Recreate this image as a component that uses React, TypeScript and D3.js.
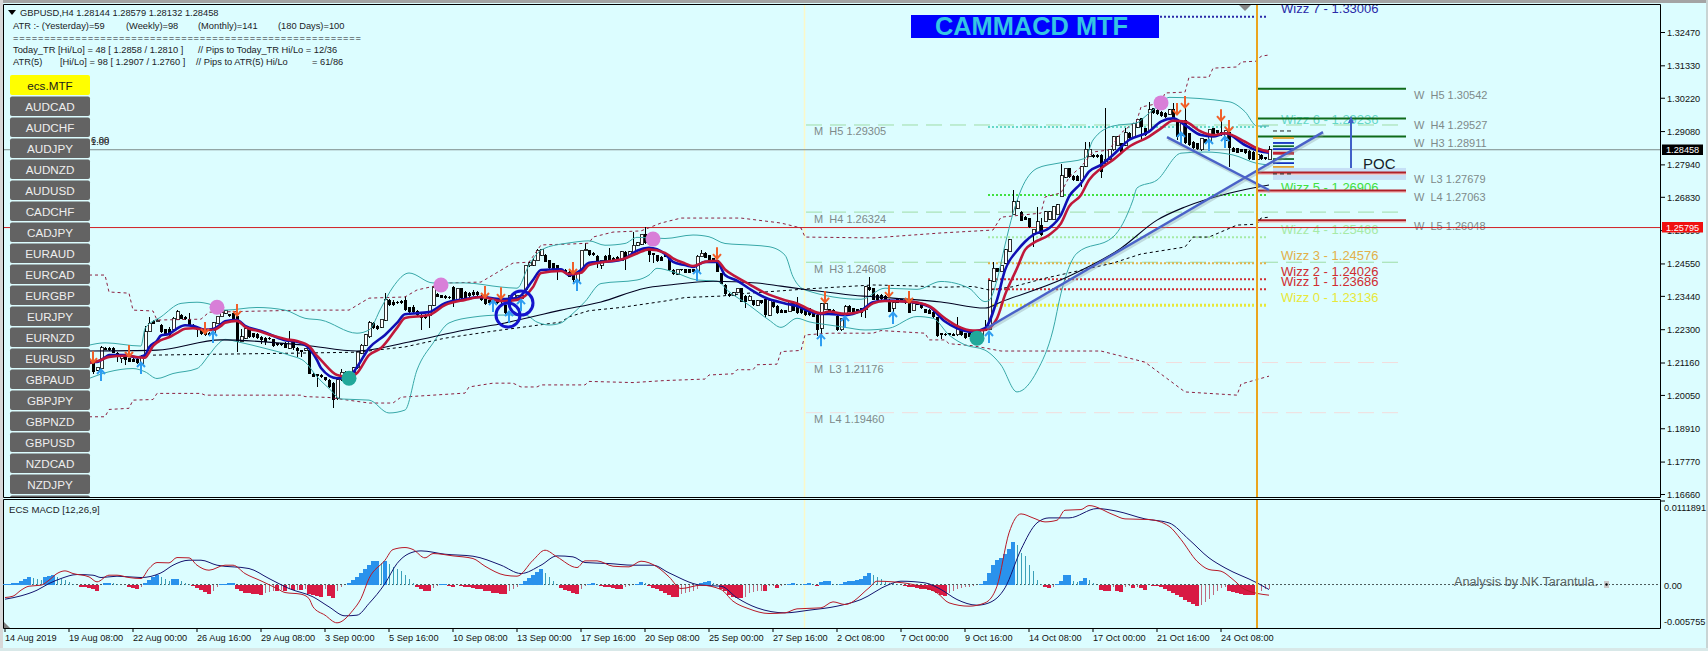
import React from "react";
import * as d3 from "d3";

// ---------- price data, in pips above 1.2000 ----------
const firstCandleBar = 22;
const candleOpen = [
  120,92,97,169,169,169,151,131,137,132, 130,130,115,137,223,261,257,246,231,234,
  229,265,280,274,265,246,237,234,223,219, 219,251,274,286,283,286,276,189,200,231,
  217,215,206,203,203,197,183,183,185,166, 189,169,160,160,162,80,77,75,67,58,
  47,-7,58,85,71,82,99,150,177,205, 253,242,239,263,332,325,325,328,332,307,
  307,294,280,280,280,314,352,348,345,343, 377,331,371,360,356,360,360,345,336,331,
  331,334,334,314,326,331,337,337,366,448, 451,466,485,485,468,457,451,434,434,428,
  423,400,434,500,502,493,482,451,482,485, 477,480,468,497,480,489,519,523,556,508,
  491,485,480,485,482,434,420,436,436,436, 436,428,480,493,485,474,468,423,383,352,
  348,356,371,345,331,331,314,331,334,280, 326,311,299,297,291,326,318,303,297,303,
  295,281,235,298,300,298,277,229,280,311, 303,300,303,298,377,372,349,349,345,332,
  303,334,334,329,326,295,320,315,300,298, 292,273,218,216,218,216,212,238,218,220,
  216,218,206,231,231,395,440,429,457,497, 623,645,634,617,611,558,560,588,600,608,
  606,623,685,752,782,756,756,742,790,822, 828,828,828,799,813,845,859,868,862,904,
  888,922,953,919,911,987,982,976,973,968, 984,948,893,948,902,873,868,845,881,873,
  919,913,908,879,908,853,851,847,847,843, 839,813,828,820,814,
];
const candleClose = [
  86,101,169,162,160,151,137,140,126,120, 121,115,137,223,251,251,262,223,212,212,
  269,291,268,265,246,234,229,215,212,212, 254,276,288,295,276,268,189,206,234,204,
  204,200,194,189,197,174,177,176,169,189, 166,158,154,166,80,69,72,67,58,35,
  -11,58,85,64,85,99,154,177,212,253, 236,232,266,332,314,314,321,321,297,290,
  290,280,270,270,314,376,343,340,337,337, 320,371,337,340,345,348,348,331,318,320,
  320,320,326,286,348,352,348,348,451,459, 468,502,505,462,440,434,428,428,425,411,
  400,423,502,505,485,485,459,468,466,462, 462,466,497,477,497,519,527,556,525,485,
  485,466,466,480,434,420,436,434,425,425, 428,482,491,477,468,468,428,388,352,345,
  356,371,326,326,345,314,329,320,280,331, 306,286,288,288,326,295,286,286,280,280,
  275,229,318,318,293,292,229,269,309,292, 286,288,286,377,366,332,332,334,332,292,
  323,323,326,320,288,320,315,303,288,284, 273,209,212,212,212,210,241,212,201,206,
  204,206,227,227,398,440,429,451,503,537, 668,668,603,606,580,574,600,554,634,634,
  651,657,756,782,752,742,740,788,847,847, 820,820,771,813,845,891,891,839,904,885,
  934,948,925,896,982,970,968,961,957,982, 953,891,936,868,862,851,847,885,868,916,
  896,902,896,913,851,839,836,839,834,813, 811,831,813,813,845,
];
const candleHigh = [
  122,103,174,172,172,171,154,143,143,134, 132,132,143,243,272,264,266,251,234,240,
  272,297,284,277,286,248,240,237,226,222, 257,278,292,297,285,288,286,234,236,234,
  219,217,208,206,205,199,186,185,187,226, 191,171,162,168,166,82,79,77,69,60,
  50,60,95,88,90,101,156,180,215,260, 256,245,268,356,335,330,328,330,346,309,
  316,296,282,283,316,378,355,350,347,345, 380,373,373,362,358,365,363,347,338,333,
  333,336,336,340,350,354,350,350,453,462, 477,505,507,490,470,459,453,436,436,430,
  425,425,504,525,504,495,484,470,484,511, 479,482,499,499,499,565,529,558,582,510,
  493,487,482,491,484,436,438,438,438,438, 438,484,502,495,487,476,470,425,385,354,
  358,373,373,347,347,333,331,333,336,333, 328,313,301,299,328,328,343,305,299,305,
  297,283,320,349,302,300,279,271,315,313, 305,302,305,379,412,374,351,351,347,334,
  325,336,336,331,328,322,322,317,302,300, 294,275,220,218,220,218,275,240,220,222,
  218,220,229,263,400,463,442,453,505,540, 708,674,636,619,613,576,649,611,636,636,
  653,659,797,784,784,758,758,790,873,873, 830,830,830,987,847,893,893,870,919,906,
  936,950,955,921,1010,989,984,978,975,984, 1005,950,938,1016,904,875,870,887,883,918,
  921,915,953,915,910,855,853,849,849,845, 841,833,830,822,858,
];
const candleLow = [
  80,90,92,160,158,149,120,115,109,118, 119,112,110,135,222,250,255,217,208,208,
  225,263,266,263,244,232,206,212,210,208, 206,250,272,284,274,266,155,187,198,202,
  202,198,181,177,195,172,175,174,167,164, 160,137,137,158,78,67,35,65,56,32,
  -38,-10,55,62,68,80,97,148,175,203, 234,230,237,260,312,312,318,319,295,288,
  288,278,229,268,236,312,341,338,335,335, 306,329,335,338,343,346,346,329,316,318,
  318,318,315,283,324,329,335,335,364,446, 449,464,483,460,438,432,400,426,423,409,
  394,398,432,498,483,483,440,436,464,460, 460,464,466,434,478,487,517,521,523,462,
  457,462,464,478,432,418,418,432,423,423, 426,426,478,475,466,466,426,386,350,343,
  346,354,324,303,329,312,312,318,271,278, 304,284,286,286,289,293,284,284,278,278,
  273,209,209,296,291,290,227,227,278,290, 284,286,275,269,364,330,330,332,330,290,
  280,321,324,318,286,293,313,301,286,282, 271,205,197,210,210,208,210,210,199,204,
  202,204,204,225,229,393,427,427,455,495, 621,643,601,604,578,514,558,552,598,606,
  604,621,683,750,750,740,738,720,788,820, 818,818,748,797,811,843,857,837,860,883,
  886,920,881,894,909,968,966,959,955,966, 951,879,891,866,860,849,845,843,866,871,
  894,900,894,877,788,837,834,837,832,811, 809,811,811,811,813,
];

const redMaBars = [21,24,26,30,35,36,37,39,41,43,45,47,50,52,54,55,58,60,64,67,70,73,76,78,79,83,86,88,91,94,98,100,106,110,115,119,124,128,132,134,139,141,144,146,149,152,155,158,161,165,167,170,172,175,178,180,183,186,190,195,198,201,204,206,210,214,217,220,226,231,235,238,242,245,248,250,253,255,257,261,264,266,269,271,274,277,281,286,289,292,295,299,302,305,310,313,316];
const redMaValues = [115,126,137,141,134,151,174,194,204,219,233,235,229,229,243,254,260,240,223,209,198,191,174,140,126,75,68,82,143,167,236,270,280,314,332,342,328,332,376,424,431,420,425,451,460,466,474,491,505,493,474,457,448,462,466,436,409,386,356,331,320,300,286,292,284,292,320,328,326,311,269,243,227,229,269,349,440,503,526,554,594,651,691,742,782,811,856,891,919,945,942,908,896,902,873,851,839];
const blueMaBars = [21,23,25,26,30,33,35,36,38,39,41,43,45,47,50,52,54,55,58,60,64,67,70,73,76,78,79,83,86,88,91,95,98,100,106,110,115,119,124,128,132,134,139,141,144,146,149,152,155,158,161,165,167,170,172,175,178,180,183,186,190,195,198,201,204,206,210,214,217,220,226,231,235,238,242,245,248,250,253,255,257,261,264,266,269,271,274,277,281,286,289,292,295,299,302,305,310,313,316];
const blueMaValues = [120,120,135,143,143,135,143,169,192,210,215,234,245,243,230,232,249,259,263,243,226,209,194,189,167,126,99,64,68,102,167,212,253,283,290,321,335,342,335,338,400,434,437,417,434,459,462,464,474,500,510,489,462,451,445,462,462,417,398,371,340,320,311,293,284,284,280,295,324,330,326,309,258,235,223,235,332,434,500,531,554,577,623,685,731,771,794,828,879,908,942,953,930,896,891,902,862,843,836];
const longMaBars = [21,38,54,75,88,101,115,125,139,149,160,166,177,188,194,201,212,222,234,245,249,265,279,288,295,306,316];
const longMaValues = [157,160,195,177,157,188,229,253,297,325,372,383,396,390,379,366,348,338,325,304,325,407,509,605,650,697,725];
const bbUpperBars = [21,25,34,35,39,44,48,51,55,63,70,75,79,88,91,94,97,101,107,115,124,128,131,134,139,141,146,150,155,158,165,172,176,180,187,191,195,197,200,214,220,228,234,241,245,246,248,250,252,254,258,263,270,272,277,283,285,289,291,306,310,313,316];
const bbUpperValues = [177,185,174,234,274,320,324,318,297,306,297,269,263,218,229,304,376,424,390,390,376,372,451,502,523,527,534,519,525,546,542,554,548,525,519,514,485,411,366,334,372,368,395,372,326,330,400,520,628,708,782,799,816,879,927,938,959,1005,1025,1010,976,927,927];
const bbLowerBars = [21,26,32,35,38,42,48,51,53,55,58,65,71,75,78,81,84,91,96,100,103,107,111,117,124,130,133,136,139,141,145,149,158,161,163,167,173,178,181,186,191,194,198,201,206,210,215,221,228,232,236,240,245,249,253,258,262,264,268,277,282,283,288,294,300,307,313,316];
const bbLowerValues = [63,86,97,86,63,80,97,143,177,197,189,166,143,120,69,29,-7,-11,-55,-45,92,184,253,273,280,280,256,246,253,274,326,388,400,417,440,428,400,396,360,314,263,238,269,257,246,238,229,235,275,269,212,178,160,109,17,88,229,355,492,547,674,715,742,834,838,828,799,794];
const upperChannelBars = [21,25,26,31,32,37,38,49,51,75,86,91,100,103,111,119,127,131,134,141,146,147,152,159,164,169,184,194,199,200,217,234,247,249,259,260,264,266,269,272,276,279,283,284,289,290,295,296,301,302,308,309,313,314,316];
const upperChannelValues = [417,417,359,355,297,294,263,266,290,297,297,338,342,366,390,393,458,461,520,523,526,547,564,568,595,612,612,595,578,547,544,561,571,615,629,684,698,752,787,838,845,903,947,992,1006,1040,1043,1094,1094,1125,1129,1146,1149,1166,1170];
const lowerChannelBars = [21,25,26,31,32,37,38,49,50,74,75,81,91,97,99,115,116,122,127,129,133,134,145,146,157,165,175,176,182,183,187,188,193,194,199,200,206,217,219,230,231,235,236,242,249,274,285,295,308,309,316];
const lowerChannelValues = [-68,-68,-43,-39,-11,-9,12,12,6,6,1,-2,-21,-21,-1,13,34,47,47,34,34,41,41,53,49,56,61,75,79,93,93,110,112,155,159,212,218,218,227,218,195,195,182,175,157,157,119,17,6,44,71];
const midChannelBars = [37,74,88,100,110,122,139,141,146,154,165,170,179,185,201,217,227,234,242,246,252,260,277,284,295,297,301,308,313,314,316];
const midChannelValues = [143,150,153,171,201,225,256,274,295,306,328,340,345,354,370,383,380,375,378,366,377,406,458,489,513,547,547,588,591,612,615];

// ---------- axis ----------
const priceTicks = ["1.32470","1.31330","1.30220","1.29080","1.27940","1.26830","1.25690","1.24550","1.23440","1.22300","1.21160","1.20050","1.18910","1.17770","1.16660"];
const timeLabels = ["14 Aug 2019","19 Aug 08:00","22 Aug 00:00","26 Aug 16:00","29 Aug 08:00","3 Sep 00:00","5 Sep 16:00","10 Sep 08:00","13 Sep 00:00","17 Sep 16:00","20 Sep 08:00","25 Sep 00:00","27 Sep 16:00","2 Oct 08:00","7 Oct 00:00","9 Oct 16:00","14 Oct 08:00","17 Oct 00:00","21 Oct 16:00","24 Oct 08:00"];
const barsPerTimeLabel = 16;
const lastBar = 316;

// ---------- levels ----------
const monthlyNames = ["M  H5","M  H4","M  H3","M  L3","M  L4"];
const monthlyValues = [1.29305,1.26324,1.24608,1.21176,1.1946];
const weeklyNames = ["W  H5","W  H4","W  H3","W  L3","W  L4","W  L5"];
const weeklyValues = [1.30542,1.29527,1.28911,1.27679,1.27063,1.26048];
const wizzNames = ["Wizz 7","Wizz 6","Wizz 5","Wizz 4","Wizz 3","Wizz 2","Wizz 1","Wizz 0"];
const wizzValues = [1.33006,1.29236,1.26906,1.25466,1.24576,1.24026,1.23686,1.23136];
const wizzColors = ["#2a2aa8","#66d8c8","#40e040","#a6eaa6","#e2b04a","#d02c30","#d02c30","#e8e838"];
const bidPrice = 1.28458;
const markedPrice = 1.25795;

// ---------- markers ----------
const pinkDotBars = [53,109,162,289];
const pinkDotValues = [307,383,540,1006];
const tealDotBars = [86,243];
const tealDotValues = [64,201];
const ringBars = [125.75,129];
const ringValues = [280,321];
const downArrowBars = [22,31,50,58,120,124,142,178,205,221,226,293,295,304,306];
const downArrowValues = [136,157,236,297,359,355,441,492,342,362,342,985,1009,964,927];
const upArrowBars = [24,34,52,122,126,129,143,173,204,210,222,246,294,301,305];
const upArrowValues = [75,99,205,311,273,314,383,417,194,256,270,205,886,862,872];
const trendStartBars = [245.5,290.5];
const trendStartValues = [236,889];
const trendEndBars = [329.5,316];
const trendEndValues = [906,708];
const stackLevels = [886,869,858,848,834,814,800,787];
const stackColors = ["#e0a030","#1030c0","#176e30","#1030c0","#c02030","#176e30","#1030c0","#e0a030"];
const stackDashed = [910,763];
const pocRange = [1.27835,1.27425];

// ---------- MACD, in units of 0.0000441 ----------
const macdUnit = 0.0000441;
const macdHistogram = [
  1,2,5,5,12,18,22,20,18,14, 22,26,30,22,18,15,8,3,0,-6,
  -7,-10,-12,-18,-2,4,6,5,1,0, -1,-6,-9,-13,-6,5,15,22,28,22,
  16,10,16,18,12,6,2,-4,-10,-16, -22,-27,-18,-8,1,3,4,5,-14,-20,
  -24,-25,-27,-29,-31,-25,-22,-18,-20,-16, -18,-14,-17,-15,-17,-12,-28,-32,-35,-37,
  -12,-34,-40,-18,-8,-2,6,14,24,34, 46,58,70,72,66,72,62,52,48,42,
  30,16,6,-8,-14,-18,-20,-10,-3,1, 1,-3,-6,-2,-5,-7,-8,-10,-12,-14,
  -18,-20,-24,-26,-28,-28,-18,-14,-8,2, 10,20,28,38,46,34,24,12,2,-10,
  -15,-20,-26,-28,-14,-3,3,5,2,-4, -6,-8,-10,-12,-14,-6,-4,-2,3,7,
  4,-4,-10,-14,-18,-24,-30,-36,-36,-28, -26,-22,-20,-14,4,8,10,6,0,-12,
  -20,-30,-38,-40,-40,-38,-25,-22,-20,-18, -20,-5,-4,-10,-4,-2,3,4,3,1,
  2,4,2,-4,8,10,10,2,1,3, 8,10,12,14,18,26,36,28,24,18,
  10,6,4,2,-2,-4,-6,-8,-10,-12, -14,-16,-18,-24,-32,-34,-26,-18,-14,-10,
  -8,-6,-4,-2,3,10,35,60,74,80, 92,106,128,120,95,85,60,40,15,2,
  -8,-10,-8,3,12,28,28,10,8,10, 20,14,4,-2,-16,-20,-20,-8,-18,-22,
  -8,-3,-10,-8,-10,-16,-2,-3,-5,-8, -12,-18,-24,-30,-38,-46,-52,-58,-64,-60,
  -52,-42,-32,-20,-10,-6,-18,-22,-26,-28, -30,-30,-32,-22,-18,-14,-12,
];
const macdRedBars = [0,2,4,6,9,11,13,15,17,21,23,26,28,31,34,36,38,41,43,46,48,51,55,57,60,64,68,70,74,76,77,80,83,87,89,91,95,97,100,102,105,107,112,117,120,125,128,132,135,138,143,145,148,152,156,159,163,166,169,174,179,182,186,191,195,198,204,207,210,216,218,222,227,233,236,241,245,248,251,254,257,260,263,265,269,271,277,280,286,291,294,298,301,304,307,310,316];
const macdRedValues = [-39,-35,-17,-5,-2,13,33,41,33,23,8,28,28,21,18,48,66,65,81,80,58,43,58,58,33,11,-12,-24,-29,-42,-67,-92,-115,-77,-42,18,73,105,111,105,80,93,86,78,55,28,25,73,103,83,51,71,71,55,53,70,53,23,-12,-2,-15,-50,-73,-87,-85,-73,-70,-52,-60,-10,10,8,0,-25,-55,-65,-55,-5,155,212,200,188,193,223,225,237,210,197,195,175,135,70,45,40,15,-15,-32];
const macdNavyBars = [0,4,8,11,14,18,22,24,28,34,39,42,46,49,53,61,66,71,77,81,85,88,91,95,98,101,104,110,117,124,129,134,138,142,145,151,157,162,166,174,179,183,188,195,201,208,214,221,224,230,234,238,243,246,250,254,258,261,266,273,278,285,291,296,301,305,313,316];
const macdNavyValues = [-44,-34,-17,3,18,30,28,21,25,21,35,58,73,73,58,48,18,-12,-37,-67,-94,-92,-57,3,63,93,101,91,85,58,33,58,86,83,66,63,58,58,35,-2,-5,-40,-70,-85,-77,-65,-45,0,10,5,-15,-45,-62,-55,-10,105,185,200,200,228,220,197,185,135,80,50,5,-15];
const macdTop = 0.0111891;
const macdBottom = -0.005755;

// ---------- panel ----------
const symbols = ["AUDCAD","AUDCHF","AUDJPY","AUDNZD","AUDUSD","CADCHF","CADJPY","EURAUD","EURCAD","EURGBP","EURJPY","EURNZD","EURUSD","GBPAUD","GBPJPY","GBPNZD","GBPUSD","NZDCAD","NZDJPY"];

const BG = "#dcfdff";
const SANS = "'Liberation Sans', Arial, sans-serif";

const x = d3.scaleLinear().domain([0, lastBar]).range([5, 1269]);
const yPip = d3.scaleLinear().domain([1247, -334]).range([32.5, 494.5]);
const yPrice = (p: number) => yPip((p - 1.2) * 10000);
const yMacd = d3.scaleLinear().domain([macdTop, macdBottom]).range([500, 628]);
const yHist = (v: number) => yMacd(v * macdUnit);

type Mk = { bars: number[]; values: number[]; stroke: string; w: number; dash?: string; smooth?: boolean };
const pathOf = (bars: number[], values: number[], smooth: boolean, yf: (v: number) => number) =>
  d3.line<number>().x((b) => x(b)).y((_, i) => yf(values[i])).curve(smooth ? d3.curveMonotoneX : d3.curveLinear)(bars) as string;

const priceLines: Mk[] = [
  { bars: upperChannelBars, values: upperChannelValues, stroke: "#8c2040", w: 1, dash: "3 3" },
  { bars: lowerChannelBars, values: lowerChannelValues, stroke: "#8c2040", w: 1, dash: "3 3" },
  { bars: midChannelBars, values: midChannelValues, stroke: "#000008", w: 1, dash: "3 3" },
  { bars: bbUpperBars, values: bbUpperValues, stroke: "#38a8a8", w: 1, smooth: true },
  { bars: bbLowerBars, values: bbLowerValues, stroke: "#38a8a8", w: 1, smooth: true },
  { bars: longMaBars, values: longMaValues, stroke: "#000020", w: 1.1, smooth: true },
];

function Arrow({ bar, value, up }: { bar: number; value: number; up: boolean }) {
  const cx = x(bar);
  const cy = yPip(value);
  const dir = up ? -1 : 1;
  const col = up ? "#2f9df0" : "#f0602a";
  return (
    <g stroke={col} fill="none" strokeWidth={2}>
      <path d={`M${cx},${cy - dir * 6}L${cx},${cy + dir * 5}`} />
      <path d={`M${cx - 4},${cy + dir * 1}L${cx},${cy + dir * 5.5}L${cx + 4},${cy + dir * 1}`} />
    </g>
  );
}

export default function App() {
  return (
    <svg width={1708} height={651} style={{ position: "fixed", left: 0, top: 0, display: "block" }} fontFamily={SANS}>
      <defs>
        <clipPath id="mainClip"><rect x={4} y={5} width={1656} height={492} /></clipPath>
      </defs>
      <rect width={1708} height={651} fill={BG} />
      <rect width={1708} height={3} fill="#a4a4a4" />
      <rect y={0} width={3} height={651} fill="#d8d8d8" />
      <rect x={1706} width={2} height={651} fill="#c8d4d4" />
      <rect y={648} width={1708} height={3} fill="#d8e8e8" />

      {/* window frames */}
      <path d="M3.5,4.5H1660.5V497.5H3.5ZM3.5,499.5H1660.5V628.5H3.5Z" fill="none" stroke="#000" strokeWidth={1} />

      <g clipPath="url(#mainClip)">
        {/* separators */}
        <line x1={804.5} x2={804.5} y1={5} y2={497} stroke="#fbf8c8" strokeWidth={1.5} />

        {/* monthly levels */}
        {monthlyValues.map((v, i) => (
          <g key={i}>
            <line x1={806} x2={1398} y1={yPrice(v)} y2={yPrice(v)} stroke={monthlyNames[i].includes("H") ? "#9edca6" : "#f2dcdc"} strokeWidth={1} strokeDasharray="16 8" />
            <text x={814} y={yPrice(v) + 10.5} fontSize={11} fill="#7e8a8a" xmlSpace="preserve">{`${monthlyNames[i]} ${v.toFixed(5)}`}</text>
          </g>
        ))}

        {/* wizz levels */}
        {wizzValues.map((v, i) => (
          <g key={i}>
            <line x1={i === 0 ? 1160 : 988} x2={1266} y1={yPrice(v)} y2={yPrice(v)} stroke={wizzColors[i]} strokeWidth={i === 7 ? 3 : 2} strokeDasharray="2 2" />
            <text x={1281} y={yPrice(v) - 3.5} fontSize={13} fill={wizzColors[i]}>{`${wizzNames[i]} - ${v.toFixed(5)}`}</text>
          </g>
        ))}

        {/* POC */}
        <rect x={1273} y={yPrice(pocRange[0])} width={133} height={yPrice(pocRange[1]) - yPrice(pocRange[0])} fill="#c6dff6" />
        <text x={1363} y={168.5} fontSize={15} fill="#15202a">POC</text>

        {/* weekly levels */}
        {weeklyValues.map((v, i) => (
          <g key={i}>
            {i > 2 && <line x1={1257} x2={1406} y1={yPrice(v) + 1} y2={yPrice(v) + 1} stroke="#f0c8c8" strokeWidth={3} />}
            <line x1={1257} x2={1406} y1={yPrice(v)} y2={yPrice(v)} stroke={i < 3 ? "#0f6a1a" : "#b02028"} strokeWidth={2} />
            <text x={1414} y={yPrice(v) + 10} fontSize={11} fill="#7e8a8a" xmlSpace="preserve">{`${weeklyNames[i]} ${v.toFixed(5)}`}</text>
          </g>
        ))}

        {/* price lines */}
        <line x1={4} x2={1660} y1={yPrice(bidPrice)} y2={yPrice(bidPrice)} stroke="#7c8a8a" strokeWidth={1} />
        <line x1={4} x2={1660} y1={yPrice(markedPrice)} y2={yPrice(markedPrice)} stroke="#d02024" strokeWidth={1} />

        {/* candles */}
        {candleOpen.map((o, k) => {
          const c = candleClose[k];
          const bar = firstCandleBar + k;
          const cx = Math.round(x(bar)) + 0.5;
          const top = yPip(Math.max(o, c));
          const bot = yPip(Math.min(o, c));
          return (
            <g key={k} shapeRendering="crispEdges">
              <line x1={cx} x2={cx} y1={yPip(candleHigh[k])} y2={yPip(candleLow[k])} stroke="#000" strokeWidth={1} />
              <rect x={cx - 1.5} y={top} width={3} height={Math.max(bot - top, 1)} fill={c >= o ? "#fff" : "#000"} stroke="#000" strokeWidth={c >= o ? 0.8 : 0} />
            </g>
          );
        })}

        {/* indicator lines */}
        {priceLines.map((l, i) => (
          <path key={i} d={pathOf(l.bars, l.values, !!l.smooth, yPip)} fill="none" stroke={l.stroke} strokeWidth={l.w} strokeDasharray={l.dash} />
        ))}
        <path d={pathOf(blueMaBars, blueMaValues, true, yPip)} fill="none" stroke="#1010b4" strokeWidth={2.6} />
        <path d={pathOf(redMaBars, redMaValues, true, yPip)} fill="none" stroke="#c0183a" strokeWidth={2.6} />

        {/* POC stack */}
        {stackLevels.map((v, i) => (
          <line key={i} x1={1273} x2={1294} y1={yPip(v)} y2={yPip(v)} stroke={stackColors[i]} strokeWidth={i === 4 ? 3 : 1.8} />
        ))}
        {stackDashed.map((v, i) => (
          <line key={i} x1={1273} x2={1294} y1={yPip(v)} y2={yPip(v)} stroke="#222" strokeWidth={1} strokeDasharray="4 3" />
        ))}

        {/* markers */}
        {ringBars.map((b, i) => (
          <circle key={i} cx={x(b)} cy={yPip(ringValues[i])} r={12} fill="none" stroke="#1414cc" strokeWidth={3} />
        ))}
        {downArrowBars.map((b, i) => <Arrow key={i} bar={b} value={downArrowValues[i]} up={false} />)}
        {upArrowBars.map((b, i) => <Arrow key={i} bar={b} value={upArrowValues[i]} up={true} />)}
        {pinkDotBars.map((b, i) => <circle key={i} cx={x(b)} cy={yPip(pinkDotValues[i])} r={7.5} fill="#d87fd8" />)}
        {tealDotBars.map((b, i) => <circle key={i} cx={x(b)} cy={yPip(tealDotValues[i])} r={7.5} fill="#21a89a" />)}

        {/* trend lines */}
        {trendStartBars.map((b, i) => {
          const p = { x1: x(b), y1: yPip(trendStartValues[i]), x2: x(trendEndBars[i]), y2: yPip(trendEndValues[i]) };
          return (
            <g key={i}>
              <line {...p} y1={p.y1 + 2} y2={p.y2 + 2} x1={p.x1 + 1} x2={p.x2 + 1} stroke="#8a9aa0" strokeOpacity={0.35} strokeWidth={3} />
              <line {...p} stroke="#4a62c8" strokeWidth={2.4} />
            </g>
          );
        })}
        <line x1={1351} x2={1351} y1={168} y2={119} stroke="#4060c8" strokeWidth={2} />
        <path d="M1351,116l-3,7h6z" fill="#4060c8" />

        {/* orange time marker */}
        <line x1={1257} x2={1257} y1={5} y2={497} stroke="#eaa41e" strokeWidth={2} />

        {/* top small marker */}
        <path d="M1239,5h12l-6,6z" fill="#858585" />

        {/* title */}
        <rect x={911} y={15} width={248} height={23} fill="#0000ff" />
        <text x={1031.5} y={35} fontSize={25.4} fontWeight="bold" fill="#35c4e4" textAnchor="middle">CAMMACD MTF</text>

        {/* header */}
        <path d="M8,10h8l-4,5z" fill="#000" />
        <g fontSize={9.3} fill="#1a2226" xmlSpace="preserve">
          <text x={20} y={16}>GBPUSD,H4  1.28144 1.28579 1.28132 1.28458</text>
          <text x={13} y={29}>ATR :- (Yesterday)=59</text>
          <text x={126} y={29}>(Weekly)=98</text>
          <text x={198} y={29}>(Monthly)=141</text>
          <text x={278} y={29}>(180 Days)=100</text>
          <text x={13} y={41} textLength={348} lengthAdjust="spacing">========================================================</text>
          <text x={13} y={53}>Today_TR [Hi/Lo] = 48 [ 1.2858 / 1.2810 ]</text>
          <text x={198} y={53}>// Pips to Today_TR Hi/Lo  = 12/36</text>
          <text x={13} y={65}>ATR(5)</text>
          <text x={60} y={65}>[Hi/Lo] = 98 [ 1.2907 / 1.2760 ]</text>
          <text x={196} y={65}>// Pips to ATR(5) Hi/Lo</text>
          <text x={312} y={65}>= 61/86</text>
          <text x={91} y={143} fill="#222">6.00</text>
          <text x={91} y={145} fill="#222">1.00</text>
        </g>

        {/* symbol buttons */}
        <rect x={10} y={75} width={80} height={20} rx={2} fill="#ffff00" />
        <text x={50} y={89.5} fontSize={11.7} fill="#1a1a1a" textAnchor="middle">ecs.MTF</text>
        {symbols.map((s, i) => (
          <g key={s}>
            <rect x={10} y={96.5 + 21 * i} width={80} height={19.5} rx={2} fill="#636363" />
            <text x={50} y={110.7 + 21 * i} fontSize={11.7} fill="#eeeeee" textAnchor="middle">{s}</text>
          </g>
        ))}
        {/* the next button, cut off by the window edge */}
        <rect x={10} y={96.5 + 21 * symbols.length} width={80} height={19.5} rx={2} fill="#636363" />
      </g>

      {/* MACD window */}
      <line x1={804.5} x2={804.5} y1={500} y2={628} stroke="#fbf8c8" strokeWidth={1.5} />
      <line x1={4} x2={1660} y1={yMacd(0)} y2={yMacd(0)} stroke="#4a5a5a" strokeWidth={1} strokeDasharray="2 2" />
      {macdHistogram.map((h, i) => {
        const prev = i > 0 ? macdHistogram[i - 1] : 0;
        const thick = h >= 0 ? h >= prev : h <= prev;
        const y0 = yHist(0);
        const y1 = yHist(h);
        const col = h >= 0 ? (thick ? "#2a92ec" : "#3a9fb8") : thick ? "#d81a44" : "#c06a80";
        return (
          <rect key={i} x={thick ? x(i) - 2 : x(i) - 0.5} y={Math.min(y0, y1)} width={thick ? 4 : 1} height={Math.abs(y1 - y0)} fill={col} shapeRendering="crispEdges" />
        );
      })}
      <path d={pathOf(macdNavyBars, macdNavyValues, true, yHist)} fill="none" stroke="#14146e" strokeWidth={1} />
      <path d={pathOf(macdRedBars, macdRedValues, true, yHist)} fill="none" stroke="#b81a28" strokeWidth={1} />
      <line x1={1257} x2={1257} y1={500} y2={628} stroke="#eaa41e" strokeWidth={2} />
      <text x={9} y={513} fontSize={9.6} fill="#1a2226">ECS MACD [12,26,9]</text>
      <text x={1454} y={586} fontSize={12} fill="#5a6464" textLength={144} lengthAdjust="spacingAndGlyphs">Analysis by NK Tarantula.</text>
      <rect x={1604} y={581} width={5} height={7} fill="#c8c8c8" />
      <circle cx={1606.5} cy={584.5} r={1.2} fill="#000" />
      <path d="M4,632v-6l6,6z" fill="#808080" transform="translate(0,-4)" />

      {/* right axis */}
      {priceTicks.map((t) => {
        const yy = yPrice(+t);
        return (
          <g key={t}>
            <line x1={1661} x2={1665} y1={yy} y2={yy} stroke="#000" />
            <text x={1667} y={yy + 3.4} fontSize={9.2} fill="#111">{t}</text>
          </g>
        );
      })}
      <rect x={1662} y={144.5} width={41} height={10.5} fill="#000" />
      <text x={1666} y={153.2} fontSize={9.2} fill="#fff">{bidPrice.toFixed(5)}</text>
      <rect x={1662} y={222} width={41} height={10.5} fill="#f01010" />
      <text x={1666} y={230.8} fontSize={9.2} fill="#fff">{markedPrice.toFixed(5)}</text>
      <g fontSize={9.2} fill="#111">
        <line x1={1661} x2={1665} y1={yMacd(macdTop) + 1} y2={yMacd(macdTop) + 1} stroke="#000" />
        <text x={1664} y={510.5}>{macdTop.toFixed(7)}</text>
        <text x={1664} y={588.5}>0.00</text>
        <text x={1664} y={625}>{macdBottom.toFixed(6)}</text>
      </g>

      {/* time axis */}
      {timeLabels.map((t, i) => {
        const xx = x(i * barsPerTimeLabel);
        return (
          <g key={t}>
            <line x1={xx} x2={xx} y1={628.5} y2={632} stroke="#000" />
            <text x={xx} y={640.5} fontSize={9.2} fill="#111">{t}</text>
          </g>
        );
      })}
    </svg>
  );
}
